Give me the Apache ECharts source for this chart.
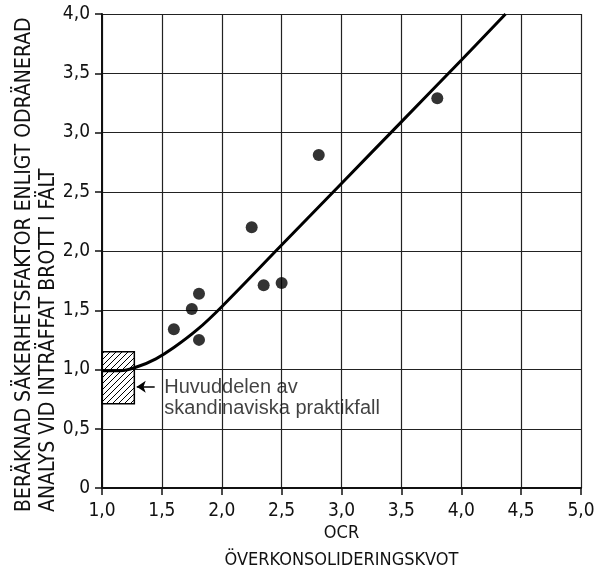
<!DOCTYPE html>
<html>
<head>
<meta charset="utf-8">
<script src="https://cdn.jsdelivr.net/npm/echarts@6/dist/echarts.min.js"></script>
<style>
  html, body { margin: 0; padding: 0; background: #fff; }
  #chart { width: 605px; height: 574px; }
</style>
</head>
<body>
<div id="chart"></div>
<script>
// Observed cases: over-consolidation ratio vs computed safety factor
const ocrObs = [1.60, 1.75, 1.81, 1.81, 2.25, 2.35, 2.50, 2.81, 3.80];
const fsObs  = [1.34, 1.51, 1.64, 1.25, 2.20, 1.71, 1.73, 2.81, 3.29];

// Trend curve
const curveOcr = [1.0, 1.15, 1.3, 1.45, 1.6, 1.8, 2.0, 2.5, 3.0, 3.5, 4.0, 4.37];
const curveFs  = [0.99, 0.99, 1.025, 1.09, 1.185, 1.34, 1.53, 2.05, 2.57, 3.09, 3.61, 4.0];

// Range of typical Scandinavian cases (OCR from-to, safety factor from-to)
const typicalOcr = [1.0, 1.27];
const typicalFs  = [0.71, 1.15];

// Axis ticks
const xTicks = [1.0, 1.5, 2.0, 2.5, 3.0, 3.5, 4.0, 4.5, 5.0];
const yTicks = [0, 0.5, 1.0, 1.5, 2.0, 2.5, 3.0, 3.5, 4.0];

// Texts
const xTitleLines = ['OCR', 'ÖVERKONSOLIDERINGSKVOT'];
const yTitleLines = ['BERÄKNAD SÄKERHETSFAKTOR ENLIGT ODRÄNERAD', 'ANALYS VID INTRÄFFAT BROTT I FÄLT'];
const noteLines = ['Huvuddelen av', 'skandinaviska praktikfall'];
const notePos = [1.52, 0.76];
const arrowFrom = [1.44, 0.855];
const arrowTo = [1.29, 0.855];

const narrow = "'DejaVu Sans Condensed', 'Liberation Sans Narrow', 'Liberation Sans', sans-serif";
const regular = "'Liberation Sans', 'DejaVu Sans', sans-serif";
const ink = '#111';

// Diagonal hatch pattern
function hatchPattern() {
  const s = 6;
  const c = document.createElement('canvas');
  c.width = s; c.height = s;
  const g = c.getContext('2d');
  g.strokeStyle = '#000';
  g.lineWidth = 1;
  g.beginPath();
  g.moveTo(0, s); g.lineTo(s, 0);
  g.moveTo(-s / 2, s / 2); g.lineTo(s / 2, -s / 2);
  g.moveTo(s / 2, s * 1.5); g.lineTo(s * 1.5, s / 2);
  g.stroke();
  return c;
}
const hatch = { image: hatchPattern(), repeat: 'repeat' };

const fmt = v => (v === 0 ? '0' : v.toFixed(1).replace('.', ','));

const chart = echarts.init(document.getElementById('chart'), null, { renderer: 'canvas' });

chart.setOption({
  backgroundColor: '#fff',
  animation: false,
  grid: { left: 102, right: 24, top: 14, bottom: 86, containLabel: false, outerBoundsMode: 'none' },
  xAxis: {
    type: 'value',
    min: xTicks[0], max: xTicks[xTicks.length - 1], interval: 0.5,
    axisLine: { show: true, onZero: false, lineStyle: { color: ink, width: 2 } },
    axisTick: { show: true, inside: false, length: 7, lineStyle: { color: ink, width: 1.5 } },
    axisLabel: { formatter: fmt, color: ink, fontFamily: narrow, fontSize: 19, margin: 14 },
    splitLine: { show: true, lineStyle: { color: '#222', width: 1.2 } },
    name: xTitleLines.join('\n'),
    nameLocation: 'middle',
    nameMoveOverlap: false,
    nameGap: 32,
    nameTextStyle: { color: ink, fontFamily: narrow, fontSize: 18, lineHeight: 27 }
  },
  yAxis: {
    type: 'value',
    min: yTicks[0], max: yTicks[yTicks.length - 1], interval: 0.5,
    axisLine: { show: true, onZero: false, lineStyle: { color: ink, width: 2 } },
    axisTick: { show: true, inside: false, length: 7, lineStyle: { color: ink, width: 1.5 } },
    axisLabel: { formatter: fmt, color: ink, fontFamily: narrow, fontSize: 19, margin: 12 },
    splitLine: { show: true, lineStyle: { color: '#222', width: 1.2 } }
  },
  graphic: [
    {
      type: 'text', x: 25, y: 512, rotation: Math.PI / 2,
      style: { text: yTitleLines[0], fill: ink, font: '21px ' + narrow, align: 'left', verticalAlign: 'middle' }
    },
    {
      type: 'text', x: 49, y: 512, rotation: Math.PI / 2,
      style: { text: yTitleLines[1], fill: ink, font: '21px ' + narrow, align: 'left', verticalAlign: 'middle' }
    }
  ],
  series: [
    {
      type: 'custom',
      z: 1,
      data: [[typicalOcr[0], typicalFs[0], typicalOcr[1], typicalFs[1]]],
      encode: { x: [0, 2], y: [1, 3] },
      renderItem: function (params, api) {
        const p0 = api.coord([api.value(0), api.value(3)]);
        const p1 = api.coord([api.value(2), api.value(1)]);
        return {
          type: 'rect',
          shape: { x: p0[0], y: p0[1], width: p1[0] - p0[0], height: p1[1] - p0[1] },
          style: { fill: hatch, stroke: '#000', lineWidth: 1.5 }
        };
      }
    },
    {
      type: 'line',
      z: 3,
      data: curveOcr.map((x, i) => [x, curveFs[i]]),
      smooth: 0.4,
      showSymbol: false,
      symbol: 'none',
      lineStyle: { color: '#000', width: 3 }
    },
    {
      type: 'scatter',
      z: 4,
      data: ocrObs.map((x, i) => [x, fsObs[i]]),
      symbol: 'circle',
      symbolSize: 12,
      itemStyle: { color: '#000' }
    },
    {
      type: 'lines',
      coordinateSystem: 'cartesian2d',
      z: 4,
      symbol: ['none', 'arrow'],
      symbolSize: 9,
      lineStyle: { color: '#000', width: 1.5, opacity: 1 },
      data: [{ coords: [arrowFrom, arrowTo] }]
    },
    {
      type: 'scatter',
      z: 4,
      silent: true,
      symbolSize: 0,
      data: [notePos],
      label: {
        show: true,
        position: 'right',
        distance: 0,
        formatter: noteLines.join('\n'),
        color: ink,
        fontFamily: regular,
        fontSize: 20,
        lineHeight: 21,
        align: 'left'
      }
    }
  ]
});
</script>
</body>
</html>
